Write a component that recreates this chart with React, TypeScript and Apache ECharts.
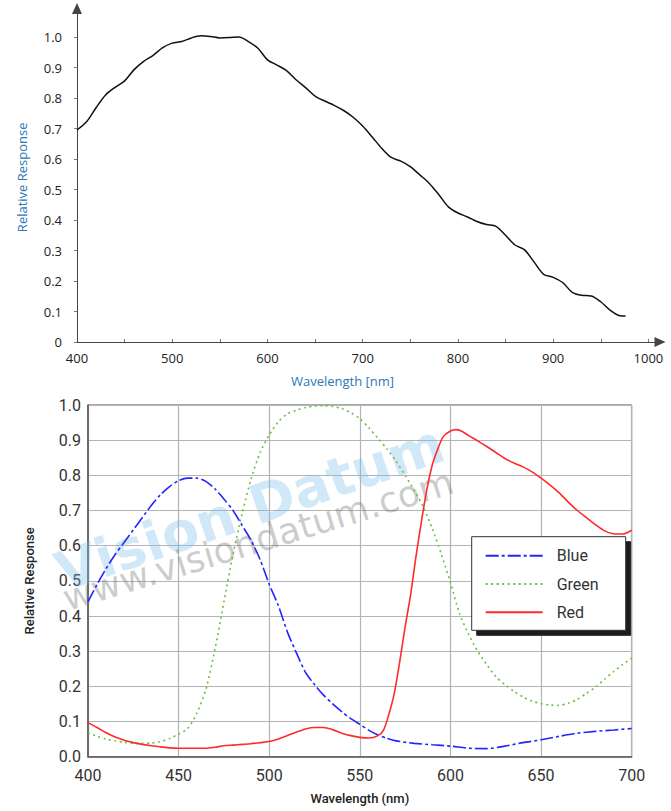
import React, { useEffect, useRef } from "react";
import * as echarts from "echarts";

// ---------- Top chart (monochrome response) ----------
const topWavelength = [
  400, 410, 420, 430, 440, 450, 460, 470, 480, 490, 500, 510, 520, 530, 540, 550, 560, 570, 580, 590,
  600, 610, 620, 630, 640, 650, 660, 670, 680, 690, 700, 710, 720, 730, 740, 750, 760, 770, 780, 790,
  800, 810, 820, 830, 840, 850, 860, 870, 880, 890, 900, 910, 920, 930, 940, 950, 960, 970, 976,
];
const topResponse = [
  0.695, 0.722, 0.768, 0.81, 0.835, 0.856, 0.893, 0.92, 0.94, 0.965, 0.98, 0.985, 0.997, 1.004, 1.002, 0.997, 0.998, 1.0, 0.985, 0.963,
  0.925, 0.908, 0.89, 0.86, 0.834, 0.806, 0.79, 0.776, 0.759, 0.737, 0.708, 0.672, 0.635, 0.605, 0.593, 0.575, 0.548, 0.52, 0.483, 0.443,
  0.423, 0.41, 0.395, 0.385, 0.379, 0.35, 0.318, 0.302, 0.262, 0.222, 0.212, 0.195, 0.163, 0.153, 0.151, 0.132, 0.104, 0.086, 0.085,
];
const topXLabels = [400, 500, 600, 700, 800, 900, 1000];
const topXTicks = [450, 500, 550, 600, 650, 700, 750, 800, 850, 900, 950, 1000];
const topYLabels = [0, 0.1, 0.2, 0.3, 0.4, 0.5, 0.6, 0.7, 0.8, 0.9, 1.0];

// ---------- Bottom chart (RGB response) ----------
const blueWavelength = [
  400, 405, 410, 415, 420, 425, 430, 435, 440, 445, 450, 455, 460, 465, 470, 475, 480, 485, 490, 495,
  500, 505, 510, 515, 520, 525, 530, 535, 540, 545, 550, 555, 560, 565, 570, 580, 590, 600, 610, 620,
  630, 640, 650, 660, 670, 680, 690, 700,
];
const blueResponse = [
  0.44, 0.49, 0.535, 0.575, 0.61, 0.645, 0.68, 0.715, 0.745, 0.768, 0.785, 0.792, 0.792, 0.783, 0.762, 0.733, 0.7, 0.658, 0.615, 0.56,
  0.49, 0.43, 0.355, 0.295, 0.24, 0.205, 0.175, 0.15, 0.128, 0.108, 0.092, 0.075, 0.062, 0.052, 0.045, 0.038, 0.034, 0.03, 0.024, 0.023,
  0.03, 0.04, 0.048, 0.058, 0.067, 0.072, 0.076, 0.08,
];
const greenWavelength = [
  400, 405, 410, 415, 420, 425, 430, 435, 440, 445, 450, 455, 460, 465, 470, 475, 480, 485, 490, 495,
  500, 505, 510, 515, 520, 525, 530, 535, 540, 545, 550, 555, 560, 565, 570, 575, 580, 585, 590, 595,
  600, 605, 610, 615, 620, 625, 630, 635, 640, 645, 650, 655, 660, 665, 670, 675, 680, 685, 690, 695, 700,
];
const greenResponse = [
  0.068, 0.058, 0.05, 0.045, 0.041, 0.038, 0.038, 0.039, 0.043, 0.052, 0.064, 0.08, 0.123, 0.19, 0.305, 0.44, 0.575, 0.69, 0.79, 0.865,
  0.915, 0.952, 0.975, 0.985, 0.993, 0.997, 0.998, 0.996, 0.99, 0.978, 0.961, 0.935, 0.905, 0.875, 0.84, 0.8, 0.757, 0.71, 0.648, 0.575,
  0.495, 0.407, 0.348, 0.3, 0.262, 0.228, 0.205, 0.186, 0.17, 0.158, 0.151, 0.147, 0.146, 0.152, 0.163, 0.18, 0.198, 0.22, 0.242, 0.262, 0.28,
];
const redWavelength = [
  400, 405, 410, 415, 420, 425, 430, 435, 440, 445, 450, 455, 460, 465, 470, 475, 480, 485, 490, 495,
  500, 505, 510, 515, 520, 525, 530, 535, 540, 545, 550, 555, 560, 563, 566, 569, 572, 575, 578, 581,
  584, 587, 590, 593, 596, 600, 603, 606, 610, 615, 620, 625, 630, 635, 640, 645, 650, 655, 660, 665,
  670, 675, 680, 685, 690, 695, 700,
];
const redResponse = [
  0.097, 0.083, 0.068, 0.056, 0.047, 0.04, 0.035, 0.031, 0.028, 0.025, 0.024, 0.024, 0.024, 0.024, 0.027, 0.031, 0.033, 0.035, 0.037, 0.04,
  0.043, 0.05, 0.06, 0.07, 0.079, 0.083, 0.083, 0.077, 0.067, 0.06, 0.055, 0.053, 0.06, 0.075, 0.12, 0.18, 0.27, 0.37, 0.46, 0.57,
  0.67, 0.76, 0.83, 0.875, 0.91, 0.926, 0.93, 0.926, 0.913, 0.898, 0.882, 0.865, 0.848, 0.835, 0.824, 0.81, 0.792, 0.772, 0.75, 0.724,
  0.7, 0.68, 0.66, 0.642, 0.634, 0.633, 0.644,
];
const seriesNames = ["Blue", "Green", "Red"];

const pairs = (xs: number[], ys: number[]) => xs.map((x, i) => [x, ys[i]]);

export default function App() {
  const ref = useRef<HTMLDivElement>(null);

  useEffect(() => {
    if (!ref.current) return;
    const chart = echarts.init(ref.current, null, { renderer: "svg" });
    const blueAxisName = "#2a78b5";
    const topFont = "'Open Sans', sans-serif";
    const botFont = "Roboto, 'Liberation Sans', sans-serif";

    chart.setOption({
      animation: false,
      backgroundColor: "#ffffff",
      grid: [
        { left: 77, right: 15, top: 12.6, bottom: 469, containLabel: false },
        {
          left: 88, right: 39.3, top: 405, bottom: 54.3, containLabel: false,
          show: true, borderColor: "#555", borderWidth: 1, backgroundColor: "transparent",
        },
      ],
      xAxis: [
        {
          gridIndex: 0, type: "value", min: 400, max: 1008,
          splitLine: { show: false },
          axisLine: { show: true, lineStyle: { color: "#444", width: 1 }, symbol: ["none", "triangle"], symbolSize: [10, 11], symbolOffset: [0, 4] },
          axisTick: { show: true, inside: true, length: 3, lineStyle: { color: "#777" }, customValues: topXTicks },
          axisLabel: { customValues: topXLabels, margin: 9, color: "#222", fontSize: 13, fontFamily: topFont, formatter: (v: number) => String(v) },
          name: "Wavelength [nm]", nameLocation: "middle", nameGap: 32,
          nameTextStyle: { color: blueAxisName, fontSize: 13, fontFamily: topFont, padding: [0, 48, 0, 0] },
        },
        {
          gridIndex: 1, type: "value", min: 400, max: 700, interval: 50,
          splitLine: { show: true, lineStyle: { color: "#b4b4b4", width: 1.2 } },
          axisLine: { show: true, lineStyle: { color: "#555", width: 1.5 } },
          axisTick: { show: false },
          axisLabel: { margin: 11, color: "#333", fontSize: 16, fontFamily: botFont },
          name: "Wavelength (nm)", nameLocation: "middle", nameGap: 35,
          nameTextStyle: { color: "#222", fontSize: 13, fontWeight: 500, fontFamily: botFont },
        },
      ],
      yAxis: [
        {
          gridIndex: 0, type: "value", min: 0, max: 1.08,
          splitLine: { show: false },
          axisLine: { show: true, lineStyle: { color: "#444", width: 1 }, symbol: ["none", "triangle"], symbolSize: [10, 11], symbolOffset: [0, 4] },
          axisTick: { show: true, inside: false, length: 3, lineStyle: { color: "#777" }, customValues: topYLabels },
          axisLabel: {
            customValues: topYLabels, margin: 15, color: "#222", fontSize: 13, fontFamily: topFont,
            formatter: (v: number) => (v === 0 ? "0" : v.toFixed(1)),
          },
          name: "Relative Response", nameLocation: "middle", nameGap: 49, nameRotate: 90,
          nameTextStyle: { color: blueAxisName, fontSize: 13, fontFamily: topFont },
        },
        {
          gridIndex: 1, type: "value", min: 0, max: 1, interval: 0.1,
          splitLine: { show: true, lineStyle: { color: "#b4b4b4", width: 1.2 } },
          axisLine: { show: true, lineStyle: { color: "#555", width: 1.5 } },
          axisTick: { show: false },
          axisLabel: { margin: 7, color: "#333", fontSize: 16, fontFamily: botFont, formatter: (v: number) => v.toFixed(1) },
          name: "Relative Response", nameLocation: "middle", nameGap: 52, nameRotate: 90,
          nameTextStyle: { color: "#222", fontSize: 13, fontWeight: 500, fontFamily: botFont },
        },
      ],
      legend: {
        show: true,
        data: seriesNames,
        orient: "vertical",
        left: 471.7,
        top: 536.7,
        padding: [11, 27, 10, 13],
        itemWidth: 57,
        itemHeight: 14,
        itemGap: 12.3,
        backgroundColor: "#ffffff",
        borderColor: "#333",
        borderWidth: 1,
        shadowColor: "#1a1a1a",
        shadowBlur: 0,
        shadowOffsetX: 5,
        shadowOffsetY: 5,
        itemStyle: { opacity: 0 },
        textStyle: { color: "#333", fontSize: 16, fontFamily: botFont, padding: [0, 0, 0, 9] },
        selectedMode: false,
      },
      graphic: [
        {
          type: "text", x: 250, y: 508, rotation: (19 * Math.PI) / 180, z: 1, silent: true,
          style: {
            text: "Vision Datum", fill: "rgba(120, 190, 235, 0.35)", font: "bold 54px 'DejaVu Sans', sans-serif",
            align: "center", verticalAlign: "middle",
          },
        },
        {
          type: "text", x: 258, y: 540, rotation: (17 * Math.PI) / 180, z: 1, silent: true,
          style: {
            text: "www.visiondatum.com", fill: "rgba(120, 120, 120, 0.38)", font: "36px 'DejaVu Sans', sans-serif",
            align: "center", verticalAlign: "middle",
          },
        },
      ],
      series: [
        {
          type: "line", name: "Mono", xAxisIndex: 0, yAxisIndex: 0,
          data: pairs(topWavelength, topResponse), showSymbol: false, symbol: "none", smooth: 0.3,
          lineStyle: { color: "#111", width: 1.5 }, z: 3,
        },
        {
          type: "line", name: "Blue", xAxisIndex: 1, yAxisIndex: 1,
          data: pairs(blueWavelength, blueResponse), showSymbol: false, symbol: "none", smooth: 0.25,
          color: "#2424ff",
          lineStyle: { color: "#2424ff", width: 1.6, type: [13, 3, 3, 3] }, z: 3,
        },
        {
          type: "line", name: "Green", xAxisIndex: 1, yAxisIndex: 1,
          data: pairs(greenWavelength, greenResponse), showSymbol: false, symbol: "none", smooth: 0.25,
          color: "#6cbf3c",
          lineStyle: { color: "#6cbf3c", width: 1.6, type: [2, 3.5] }, z: 3,
        },
        {
          type: "line", name: "Red", xAxisIndex: 1, yAxisIndex: 1,
          data: pairs(redWavelength, redResponse), showSymbol: false, symbol: "none", smooth: 0.25,
          color: "#ff2a2a",
          lineStyle: { color: "#ff2a2a", width: 1.6 }, z: 3,
        },
      ],
    });

    return () => chart.dispose();
  }, []);

  return (
    <div
      ref={ref}
      style={{ position: "fixed", left: 0, top: 0, width: 671, height: 811, background: "#fff" }}
    />
  );
}
